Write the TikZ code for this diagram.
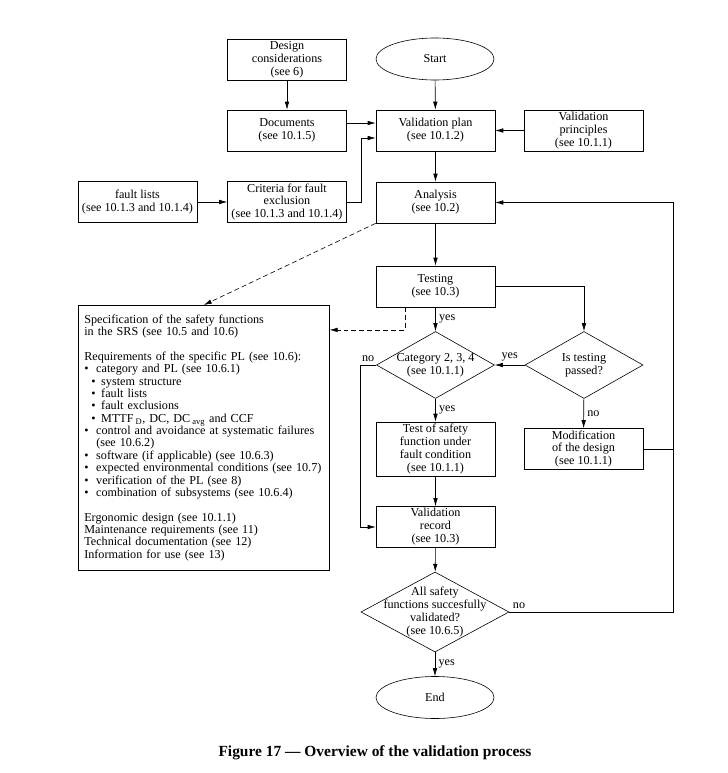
\documentclass[tikz,border=0pt]{standalone}
\usepackage{fontspec}
\setmainfont{Liberation Serif}
\usetikzlibrary{shapes.geometric,arrows.meta}
\newcommand{\bulA}[1]{\makebox[12pt][l]{•}#1}
\newcommand{\bulB}[1]{\hspace*{7pt}\makebox[10pt][l]{•}#1}

\begin{document}
\begin{tikzpicture}[x=1bp, y=-1bp, line width=0.6pt,
  >={Latex[length=8pt,width=4.5pt]},
  box/.style={draw, minimum width=119bp, minimum height=41bp, align=center, inner sep=1pt, font=\fontsize{12.2}{13}\selectfont},
  oval/.style={draw, ellipse, minimum width=118bp, minimum height=42bp, font=\fontsize{12.2}{13}\selectfont},
  dia/.style={draw, diamond, minimum width=118bp, minimum height=67bp, inner sep=0pt},
  dtext/.style={align=center, inner sep=0pt, font=\fontsize{12.2}{13}\selectfont},
  lbl/.style={font=\fontsize{12.2}{13}\selectfont},
  dsh/.style={dash pattern=on 5pt off 3pt}]
\useasboundingbox (0,0) rectangle (728,773);

% main column
\node[oval] (start) at (435,59) {Start};
\node[box] (plan) at (435.5,130.5) {Validation plan\\(see 10.1.2)};
\node[box] (ana) at (435.5,202.5) {Analysis\\(see 10.2)};
\node[box] (tst) at (435.5,286.5) {Testing\\(see 10.3)};
\node[dia] (cat) at (435.5,365) {};
\node[dtext] at (cat) {Category 2, 3, 4\\(see 10.1.1)};
\node[box, minimum height=54bp] (tof) at (435.5,449) {Test of safety\\function under\\fault condition\\(see 10.1.1)};
\node[box] (rec) at (435.5,527) {Validation\\record\\(see 10.3)};
\node[dia, minimum width=148bp, minimum height=80bp] (all) at (435,612) {};
\node[dtext] at (all) {All safety\\functions succesfully\\validated?\\(see 10.6.5)};
\node[oval] (end) at (435,697.5) {End};

% inputs
\node[box] (design) at (287,59.5) {Design\\considerations\\(see 6)};
\node[box] (docs) at (287,130.5) {Documents\\(see 10.1.5)};
\node[box] (crit) at (287,202) {Criteria for fault\\exclusion\\(see 10.1.3 and 10.1.4)};
\node[box] (faults) at (137.5,202) {fault lists\\(see 10.1.3 and 10.1.4)};
\node[box] (princ) at (583.5,130.5) {Validation\\principles\\(see 10.1.1)};

% right branch
\node[dia] (pas) at (584,365) {};
\node[dtext] at (pas) {Is testing\\passed?};
\node[box] (mod) at (583.5,449) {Modification\\of the design\\(see 10.1.1)};

% specification box
\node[draw, anchor=north west, minimum width=251bp, minimum height=265bp, text width=239bp, inner sep=6bp, align=left, font=\fontsize{12.2}{12.4}\selectfont] (srs) at (78,305) {%
Specification of the safety functions\\
in the SRS (see 10.5 and 10.6)\\[12.4pt]
Requirements of the specific PL (see 10.6):\\
\bulA{category and PL (see 10.6.1)}\\
\bulB{system structure}\\
\bulB{fault lists}\\
\bulB{fault exclusions}\\
\bulB{MTTF\,\textsubscript{D}, DC, DC\,\textsubscript{avg} and CCF}\\
\bulA{control and avoidance at systematic failures}\\
\hspace*{12pt}(see 10.6.2)\\
\bulA{software (if applicable) (see 10.6.3)}\\
\bulA{expected environmental conditions (see 10.7)}\\
\bulA{verification of the PL (see 8)}\\
\bulA{combination of subsystems (see 10.6.4)}\\[12.4pt]
Ergonomic design (see 10.1.1)\\
Maintenance requirements (see 11)\\
Technical documentation (see 12)\\
Information for use (see 13)};

% connectors
\draw[->] (start) -- (plan);
\draw[->] (princ) -- (plan);
\draw[->] (design) -- (docs);
\draw[->] ([yshift=7.5pt]docs.east) -- ([yshift=7.5pt]plan.west);
\draw[->] (faults) -- (crit);
\draw[->] (crit.east) -- ++(14,0) |- ([yshift=-7.5pt]plan.west);
\draw[->] (plan) -- (ana);
\draw[->] (ana) -- (tst);
\draw[dsh,->] (ana.south west) -- (srs.north);
\draw[dsh,->] ([xshift=30pt]tst.south west) |- ([yshift=-25pt]srs.north east);
\draw[->] (tst) -- node[lbl, right]{yes} (cat);
\draw[->] (tst.east) -| (pas.north);
\draw[->] (pas) -- node[lbl, above]{yes} (cat);
\draw[->] (pas) -- node[lbl, right]{no} (mod);
\draw[->] (cat) -- node[lbl, right]{yes} (tof);
\draw[->] (cat.west) -- node[lbl, above]{no} ++(-16,0) |- (rec.west);
\draw[->] (tof) -- (rec);
\draw[->] (rec) -- (all);
\draw[->] (all) -- node[lbl, right]{yes} (end);
\draw[->] (all.east) node[lbl, above right]{no} -- ++(164,0) |- (ana.east);
\draw (mod.east) -- ++(30,0);

% caption
\node[font=\bfseries\fontsize{15.5}{17}\selectfont] (cap) at (375,753) {Figure 17 — Overview of the validation process};
\end{tikzpicture}
\end{document}
